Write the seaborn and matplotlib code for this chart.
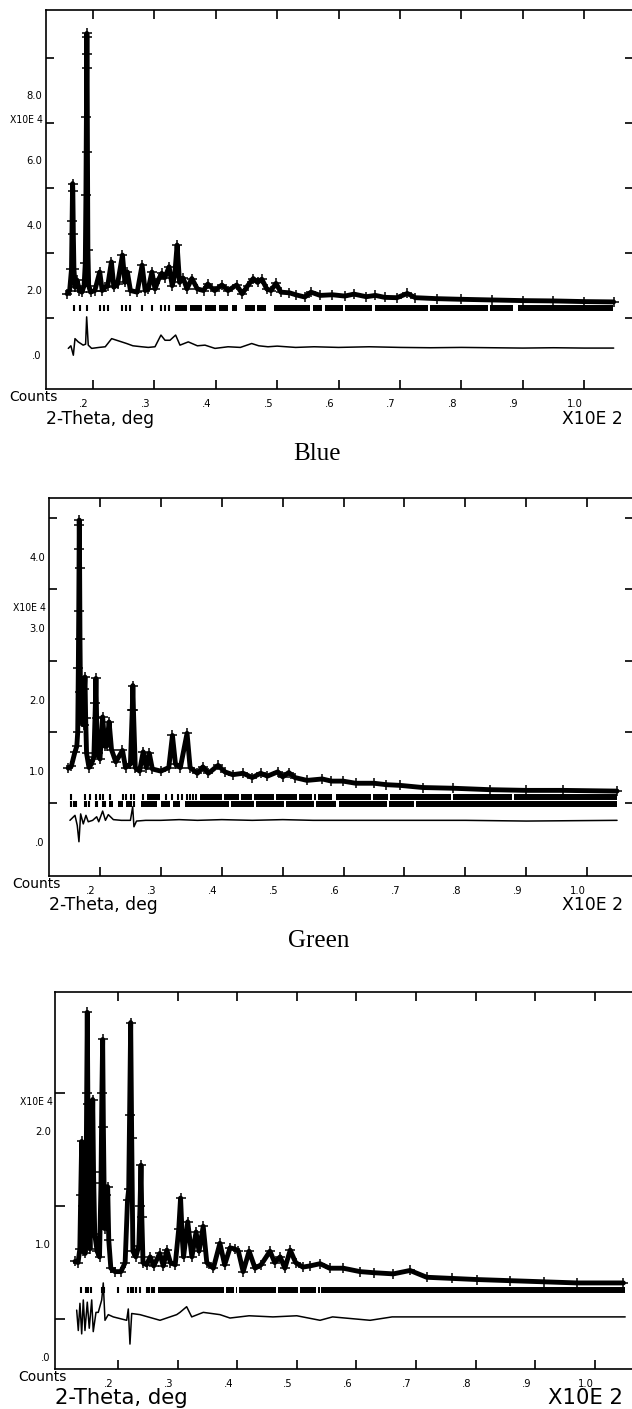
import matplotlib
matplotlib.use("Agg")
import pandas as pd
import seaborn as sns
from matplotlib import pyplot as plt
from matplotlib import font_manager
from matplotlib.transforms import ScaledTranslation

# ---- Blue: observed profile (2-theta deg, counts x1E4), difference, reflections
blue_obs = [(15.8, 0.75), (16.2, 0.85), (16.5, 1.5), (16.6, 3.0), (16.68, 4.14), (16.72, 3.9),
            (16.8, 2.6), (16.9, 1.5), (17.1, 0.95), (17.4, 1.17), (17.8, 0.85), (18.2, 0.8),
            (18.55, 1.0), (18.75, 1.7), (18.85, 3.8), (18.93, 6.2), (18.98, 8.14), (19.0, 8.76),
            (19.02, 8.66), (19.05, 7.7), (19.1, 5.1), (19.17, 2.1), (19.3, 1.0), (19.6, 0.8),
            (20.3, 0.85), (21.1, 1.42), (21.5, 0.85), (22.0, 0.95), (22.4, 1.0), (23.0, 1.73),
            (23.4, 0.95), (24.0, 1.05), (24.8, 1.94), (25.2, 1.1), (25.6, 1.42), (26.1, 0.85),
            (27.2, 0.8), (28.0, 1.63), (28.5, 0.85), (29.0, 0.9), (29.6, 1.42), (30.1, 0.9),
            (30.7, 1.2), (31.2, 1.38), (31.7, 1.25), (32.4, 1.58), (32.9, 1.0), (33.3, 1.3),
            (33.7, 2.25), (34.1, 1.1), (34.7, 1.23), (35.3, 0.9), (36.1, 1.22), (37.0, 0.9),
            (38.0, 0.85), (38.7, 1.05), (39.8, 0.85), (41.0, 1.02), (42.0, 0.85), (43.4, 1.02),
            (44.3, 0.75), (45.2, 1.0), (46.1, 1.22), (46.8, 1.1), (47.5, 1.2), (48.3, 0.9),
            (49.0, 0.85), (49.8, 1.07), (50.6, 0.8), (52.0, 0.78), (53.0, 0.72), (54.5, 0.65),
            (55.5, 0.8), (57.0, 0.7), (59.0, 0.72), (61.0, 0.68), (62.5, 0.74), (64.5, 0.66),
            (66.0, 0.7), (67.5, 0.64), (69.5, 0.63), (71.2, 0.76), (72.5, 0.63), (76.0, 0.6),
            (80.0, 0.58), (85.0, 0.56), (90.0, 0.54), (95.0, 0.53), (100.0, 0.51), (104.8, 0.5)]
blue_diff = [(15.98, -0.93), (16.4, -0.85), (16.8, -1.14), (17.07, -0.63), (17.6, -0.73),
             (18.4, -0.83), (18.8, -0.8), (18.97, 0.04), (19.23, -0.83), (19.78, -0.93),
             (21.0, -0.9), (22.0, -0.88), (23.04, -0.63), (23.85, -0.68), (24.67, -0.73),
             (25.48, -0.78), (26.5, -0.85), (27.93, -0.88), (29.0, -0.9), (30.1, -0.88),
             (31.07, -0.52), (31.73, -0.68), (32.54, -0.68), (33.46, -0.52), (34.17, -0.83),
             (35.52, -0.73), (37.0, -0.85), (38.24, -0.83), (39.87, -0.93), (42.0, -0.88),
             (44.0, -0.9), (45.85, -0.78), (47.0, -0.85), (48.5, -0.88), (50.0, -0.86),
             (53.0, -0.9), (56.0, -0.88), (60.0, -0.9), (65.0, -0.88), (70.0, -0.9),
             (75.0, -0.91), (80.0, -0.9), (85.0, -0.91), (90.0, -0.92), (95.0, -0.91),
             (100.0, -0.92), (104.8, -0.92)]
blue_refl = [16.91, 17.88, 18.97, 21.14, 21.84, 22.49, 24.67, 25.37, 26.07, 28.03, 29.56,
             31.07, 31.73, 32.38]
blue_refl_bands = [(33.36, 35.31), (35.80, 37.75), (38.24, 40.03), (40.52, 41.99), (42.64, 43.45),
                   (44.76, 46.38), (46.71, 48.18), (49.48, 55.34), (55.83, 57.30), (57.79, 60.72),
                   (61.04, 65.44), (65.93, 74.56), (74.89, 84.33), (84.66, 88.40), (89.22, 104.69)]

# ---- Green
green_obs = [(14.8, 0.49), (15.3, 0.52), (15.9, 0.72), (16.2, 0.8), (16.35, 1.0), (16.45, 1.9),
             (16.52, 2.7), (16.58, 3.57), (16.6, 3.97), (16.62, 3.9), (16.66, 3.3), (16.72, 2.3),
             (16.8, 1.56), (16.9, 1.19), (17.0, 1.14), (17.3, 1.1), (17.45, 1.6), (17.54, 1.77),
             (17.65, 1.2), (17.8, 0.7), (18.2, 0.5), (18.6, 0.55), (19.0, 0.65), (19.25, 1.4),
             (19.34, 1.75), (19.45, 1.2), (19.6, 0.7), (20.0, 0.62), (20.44, 1.21), (20.8, 0.8),
             (21.1, 0.8), (21.5, 1.14), (21.9, 0.75), (22.6, 0.58), (23.7, 0.74), (24.2, 0.5),
             (25.0, 0.55), (25.3, 1.3), (25.4, 1.65), (25.5, 1.3), (25.8, 0.5), (26.5, 0.45),
             (27.1, 0.72), (27.6, 0.5), (28.1, 0.7), (28.6, 0.48), (30.0, 0.45), (31.3, 0.5),
             (31.9, 0.95), (32.4, 0.55), (33.2, 0.5), (34.3, 0.98), (34.8, 0.5), (36.0, 0.42),
             (36.9, 0.51), (37.8, 0.42), (39.4, 0.53), (40.5, 0.44), (41.8, 0.4), (43.5, 0.42),
             (45.0, 0.36), (46.4, 0.42), (47.5, 0.38), (49.2, 0.44), (50.0, 0.37), (51.0, 0.43),
             (52.0, 0.36), (54.0, 0.32), (56.5, 0.34), (58.0, 0.31), (59.9, 0.31), (62.0, 0.28),
             (65.0, 0.28), (67.0, 0.26), (69.3, 0.25), (73.0, 0.22), (78.0, 0.21), (84.0, 0.19),
             (90.0, 0.18), (96.0, 0.18), (104.9, 0.17)]
green_diff = [(15.07, -0.24), (15.9, -0.17), (16.27, -0.31), (16.55, -0.54), (16.83, -0.15),
              (17.26, -0.29), (17.7, -0.17), (18.08, -0.26), (18.8, -0.24), (19.46, -0.19),
              (19.8, -0.26), (20.44, -0.11), (20.9, -0.24), (21.37, -0.16), (22.2, -0.23),
              (23.5, -0.24), (25.0, -0.24), (25.37, -0.05), (25.58, -0.33), (26.0, -0.25),
              (27.5, -0.24), (30.0, -0.24), (33.0, -0.23), (36.0, -0.24), (40.0, -0.23),
              (45.0, -0.24), (50.0, -0.23), (55.0, -0.24), (60.0, -0.24), (70.0, -0.24),
              (80.0, -0.24), (90.0, -0.25), (104.9, -0.24)]
green_refl_1 = [15.24, 17.54, 18.36, 19.34, 20.0, 20.57, 21.64, 23.86, 24.27, 25.17, 25.58, 27.14,
                30.92, 31.82, 32.81, 33.46, 34.29, 34.78, 35.27, 35.76]
green_refl_bands_1 = [(27.72, 29.85), (36.42, 40.03), (40.36, 42.82), (43.15, 44.96), (45.29, 48.57),
                      (48.90, 52.35), (52.68, 54.81), (55.14, 55.47), (55.80, 58.10), (58.75, 64.50),
                      (64.83, 67.29), (67.62, 77.64), (77.96, 87.65), (87.98, 104.89)]
green_refl_2 = [15.32, 15.73, 16.14, 17.54, 17.78, 18.28, 19.34, 19.59, 20.57, 20.82, 25.17, 25.58]
green_refl_bands_2 = [(21.48, 22.13), (22.96, 23.78), (24.35, 24.93), (26.81, 29.36), (30.10, 31.49),
                      (31.99, 33.14), (33.96, 41.18), (41.51, 45.29), (45.62, 50.21), (50.54, 55.14),
                      (55.47, 58.75), (59.24, 67.13), (67.45, 71.56), (71.89, 104.89)]

# ---- third sample (no caption)
third_obs = [(12.8, 0.51), (13.3, 0.5), (13.6, 0.62), (13.75, 1.1), (13.91, 1.57), (14.05, 1.0),
             (14.2, 0.6), (14.5, 0.58), (14.65, 1.2), (14.75, 2.0), (14.85, 2.71), (14.95, 1.9),
             (15.1, 0.9), (15.3, 0.62), (15.55, 1.1), (15.76, 1.94), (15.9, 1.3), (16.1, 0.75),
             (16.5, 0.6), (16.9, 0.55), (17.15, 1.2), (17.3, 2.0), (17.43, 2.47), (17.55, 1.7),
             (17.75, 0.8), (18.0, 1.1), (18.27, 1.17), (18.45, 0.7), (18.8, 0.45), (19.5, 0.42),
             (20.5, 0.42), (21.2, 0.5), (21.6, 1.05), (21.8, 1.15), (21.95, 1.8), (22.13, 2.62),
             (22.3, 1.6), (22.5, 0.6), (23.0, 0.55), (23.5, 0.65), (23.7, 1.0), (23.86, 1.36),
             (24.0, 0.9), (24.2, 0.5), (24.8, 0.48), (25.4, 0.55), (26.0, 0.47), (27.0, 0.58),
             (27.6, 0.47), (28.2, 0.61), (28.8, 0.5), (29.6, 0.48), (30.2, 0.8), (30.5, 1.07),
             (30.8, 0.7), (31.0, 0.55), (31.7, 0.86), (32.4, 0.55), (33.1, 0.77), (33.6, 0.6),
             (34.3, 0.82), (34.9, 0.5), (36.0, 0.45), (37.1, 0.67), (37.9, 0.48), (38.8, 0.63),
             (39.6, 0.62), (40.2, 0.6), (41.0, 0.42), (42.0, 0.6), (43.0, 0.45), (44.0, 0.48),
             (45.5, 0.6), (46.3, 0.5), (47.2, 0.55), (48.0, 0.45), (48.9, 0.61), (49.8, 0.5),
             (51.0, 0.46), (52.2, 0.47), (53.9, 0.49), (55.5, 0.45), (57.8, 0.45), (60.6, 0.42),
             (63.0, 0.41), (66.2, 0.4), (69.0, 0.43), (71.8, 0.37), (76.0, 0.36), (80.2, 0.35),
             (85.8, 0.34), (91.4, 0.33), (97.0, 0.32), (104.8, 0.32)]
third_diff = [(13.07, 0.08), (13.34, -0.10), (13.62, 0.14), (13.91, -0.13), (14.18, 0.17),
              (14.46, -0.10), (14.85, 0.15), (15.18, -0.08), (15.59, 0.17), (15.85, -0.11),
              (16.31, 0.06), (16.69, 0.06), (17.27, 0.17), (17.53, 0.32), (17.82, -0.01),
              (18.37, 0.04), (19.21, 0.02), (21.46, -0.01), (21.73, 0.09), (22.01, -0.22),
              (22.3, 0.05), (23.69, 0.04), (27.05, -0.01), (29.85, 0.04), (30.4, 0.06),
              (31.52, 0.11), (32.37, 0.02), (34.31, 0.06), (37.11, 0.04), (38.79, 0.01),
              (42.0, 0.03), (46.0, 0.02), (50.0, 0.03), (53.9, -0.01), (56.0, 0.02),
              (62.3, -0.01), (66.0, 0.02), (75.0, 0.02), (85.0, 0.02), (95.0, 0.02), (105.1, 0.02)]
third_refl = [13.74, 14.63, 14.97, 15.42, 17.27, 17.70, 20.05, 21.73, 22.13, 22.57, 23.02, 23.69,
              24.82, 25.25, 25.65, 26.04]
third_refl_bands = [(26.71, 37.79), (38.12, 39.46), (39.80, 40.05), (40.30, 46.51), (46.85, 50.20),
                    (50.54, 53.22), (53.56, 53.81), (54.06, 105.07)]

x_ticks = [20, 30, 40, 50, 60, 70, 80, 90, 100]

panels = [
    dict(obs=blue_obs, diff=blue_diff,
         refl=[(0.31, blue_refl, blue_refl_bands)],
         rect=[0.0728, 0.7239, 0.9288, 0.2690], xlim=(12.35, 107.95), ylim=(-2.18, 9.48),
         yticks=[0, 2, 4, 6, 8], ylab_shift=37, right_ticks=True, caption="Blue",
         fs_axis=12.3, ylen=5.8),
    dict(obs=green_obs, diff=green_diff,
         refl=[(0.09, green_refl_1, green_refl_bands_1), (-0.014, green_refl_2, green_refl_bands_2)],
         rect=[0.0775, 0.3783, 0.9241, 0.2683], xlim=(11.63, 107.52), ylim=(-1.02, 4.28),
         yticks=[0, 1, 2, 3, 4], ylab_shift=39, right_ticks=True, caption="Green",
         fs_axis=12.4, ylen=5.8),
    dict(obs=third_obs, diff=third_diff,
         refl=[(0.257, third_refl, third_refl_bands)],
         rect=[0.0870, 0.0284, 0.9146, 0.2676], xlim=(9.43, 106.41), ylim=(-0.44, 2.89),
         yticks=[0, 1, 2], ylab_shift=38, right_ticks=False, caption=None,
         fs_axis=15.2, ylen=7.2),
]

sns.set_theme(style="ticks")
plt.rcParams['font.family'] = ['DejaVu Sans']
plt.rcParams['axes.linewidth'] = 1.2
plt.rcParams['axes.edgecolor'] = 'black'
plt.rcParams['text.color'] = 'black'
plt.rcParams['xtick.color'] = 'black'
plt.rcParams['ytick.color'] = 'black'

installed = {f.name for f in font_manager.fontManager.ttflist}
if 'Liberation Sans Narrow' in installed:
    narrow = dict(family='Liberation Sans Narrow')
else:
    narrow = dict(family='DejaVu Sans', stretch='condensed')

fig = plt.figure(figsize=(6.32, 14.09), dpi=100)


def fmt(v):
    s = "{:.1f}".format(v)
    return s[1:] if s.startswith("0") else s


for p in panels:
    ax = fig.add_axes(p['rect'])
    obs = pd.DataFrame(p['obs'], columns=['tth', 'counts'])
    diff = pd.DataFrame(p['diff'], columns=['tth', 'counts'])

    # dense observed band + observed crosses + calculated line
    sns.lineplot(data=obs, x='tth', y='counts', ax=ax, color='black', lw=3.5, sort=False,
                 estimator=None, solid_joinstyle='round')
    sns.scatterplot(data=obs, x='tth', y='counts', ax=ax, color='black', marker='+', s=45,
                    linewidth=1.1)
    sns.lineplot(data=obs, x='tth', y='counts', ax=ax, color='black', lw=0.9, sort=False,
                 estimator=None)
    sns.lineplot(data=diff, x='tth', y='counts', ax=ax, color='black', lw=1.1, sort=False,
                 estimator=None)

    for yrow, ticks, bands in p['refl']:
        ax.plot(ticks, [yrow] * len(ticks), ls='none', marker='|', ms=4.6, mew=1.5, color='black')
        for a, b in bands:
            ax.hlines(yrow, a, b, color='black', lw=4.3, capstyle='butt')

    ax.set_xlim(*p['xlim'])
    ax.set_ylim(*p['ylim'])
    ax.set_xlabel('')
    ax.set_ylabel('')
    ax.set_xticks(x_ticks)
    ax.set_xticklabels([fmt(t / 100) for t in x_ticks])
    ax.set_yticks(p['yticks'])
    ax.set_yticklabels([fmt(t) for t in p['yticks']])
    ax.tick_params(axis='x', direction='in', top=True, bottom=True, length=6.8, width=1.2,
                   pad=7, labelsize=8)
    ax.tick_params(axis='y', direction='in', left=True, right=p['right_ticks'], length=p['ylen'],
                   width=1.2, pad=3, labelsize=8)
    for lab in ax.get_xticklabels() + ax.get_yticklabels():
        lab.set(**narrow)
    dx = ScaledTranslation(-9 / 100, 0, fig.dpi_scale_trans)
    for lab in ax.get_xticklabels():
        lab.set_transform(lab.get_transform() + dx)
    dy = ScaledTranslation(0, -p['ylab_shift'] / 100, fig.dpi_scale_trans)
    for lab in ax.get_yticklabels():
        lab.set_transform(lab.get_transform() + dy)
    for side in ['left', 'top', 'bottom', 'right']:
        ax.spines[side].set_visible(True)
        ax.spines[side].set_color('black')

    ax.text(-0.061, 0.709, "X10E 4", transform=ax.transAxes, ha='left', va='center',
            fontsize=7.5, **narrow)
    ax.text(-0.063, -0.021, "Counts", transform=ax.transAxes, ha='left', va='center',
            fontsize=10)
    ax.text(0.0, -0.078, "2-Theta, deg", transform=ax.transAxes, ha='left', va='center',
            fontsize=p['fs_axis'])
    ax.text(0.983, -0.078, "X10E 2", transform=ax.transAxes, ha='right', va='center',
            fontsize=p['fs_axis'])
    if p['caption']:
        ax.text(0.462, -0.172, p['caption'], transform=ax.transAxes, ha='center', va='center',
                fontsize=18, family=['Liberation Serif', 'DejaVu Serif'])

fig.savefig("out.png", dpi=100, facecolor='white')
